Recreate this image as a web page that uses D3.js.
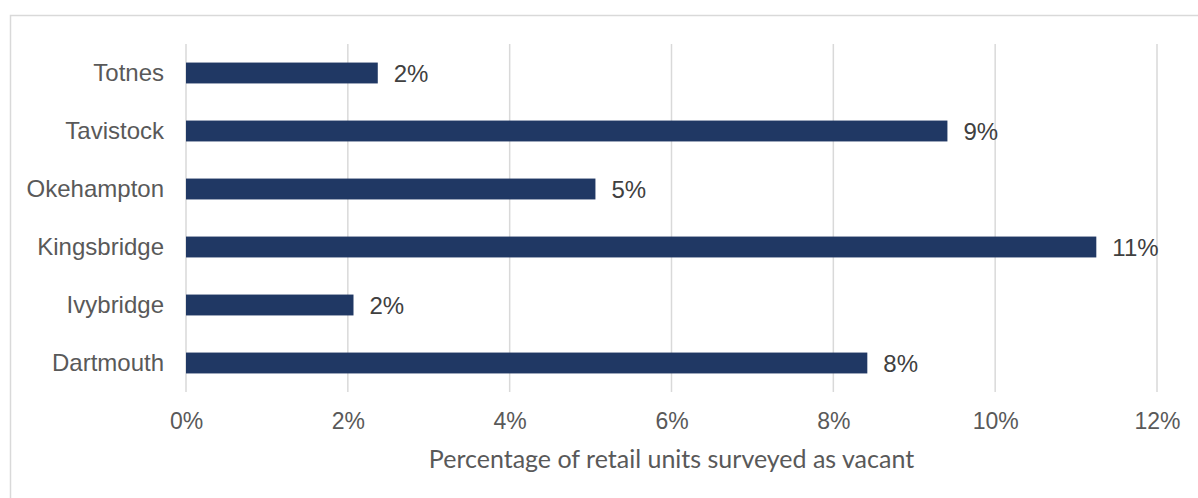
<!DOCTYPE html>
<html>
<head>
<meta charset="utf-8">
<title>Vacant retail units</title>
<script src="https://cdnjs.cloudflare.com/ajax/libs/d3/7.8.5/d3.min.js"></script>
<style>
  body { margin: 0; background: #fff; }
  svg { display: block; }
</style>
</head>
<body>
<div id="chart"></div>
<script>
// data, top to bottom
var towns = ["Totnes", "Tavistock", "Okehampton", "Kingsbridge", "Ivybridge", "Dartmouth"];
var vacant = [2.37, 9.41, 5.06, 11.25, 2.07, 8.42];
var valueLabels = ["2%", "9%", "5%", "11%", "2%", "8%"];
var xTicks = [0, 2, 4, 6, 8, 10, 12];
var xTitle = "Percentage of retail units surveyed as vacant";

var w = 1198, h = 498;
var margin = {top: 44, right: 41, bottom: 106, left: 186};

var svg = d3.select("#chart").append("svg")
    .attr("width", w)
    .attr("height", h);

// outer frame (runs off right/bottom edge like the original)
svg.append("rect")
    .attr("x", 10.5).attr("y", 15.5)
    .attr("width", w + 20).attr("height", h + 20)
    .attr("fill", "none")
    .attr("stroke", "#d9d9d9")
    .attr("stroke-width", 1.5);

var xScale = d3.scaleLinear()
    .domain([0, 12])
    .range([margin.left, w - margin.right]);

var yScale = d3.scaleBand()
    .domain(towns)
    .range([margin.top, h - margin.bottom])
    .paddingInner(0.64)
    .paddingOuter(0.32);

// gridlines
svg.append("g")
    .selectAll("line")
    .data(xTicks)
    .enter().append("line")
    .attr("x1", (d) => xScale(d))
    .attr("x2", (d) => xScale(d))
    .attr("y1", margin.top)
    .attr("y2", h - margin.bottom)
    .attr("stroke", "#d9d9d9")
    .attr("stroke-width", 1.5);

// bars
svg.append("g")
    .selectAll("rect")
    .data(vacant)
    .enter().append("rect")
    .attr("x", xScale(0))
    .attr("y", (d, i) => yScale(towns[i]))
    .attr("width", (d) => xScale(d) - xScale(0))
    .attr("height", yScale.bandwidth())
    .attr("fill", "#203864");

// value labels
svg.append("g")
    .selectAll("text")
    .data(vacant)
    .enter().append("text")
    .attr("x", (d) => xScale(d) + 16)
    .attr("y", (d, i) => yScale(towns[i]) + yScale.bandwidth() / 2)
    .attr("dy", "0.36em")
    .attr("font-family", "'Liberation Sans', Arial, sans-serif")
    .attr("font-size", "24px")
    .attr("fill", "#404040")
    .text((d, i) => valueLabels[i]);

// category axis
var yAxis = d3.axisLeft(yScale).tickSize(0).tickPadding(22);
var yg = svg.append("g")
    .attr("transform", "translate(" + margin.left + ",0)")
    .call(yAxis);
yg.select(".domain").remove();
yg.selectAll("text")
    .attr("font-family", "'Liberation Sans', Arial, sans-serif")
    .attr("font-size", "24px")
    .attr("fill", "#595959");

// value axis
var xAxis = d3.axisBottom(xScale)
    .tickValues(xTicks)
    .tickSize(0)
    .tickPadding(21)
    .tickFormat((d) => d + "%");
var xg = svg.append("g")
    .attr("transform", "translate(0," + (h - margin.bottom) + ")")
    .call(xAxis);
xg.select(".domain").remove();
xg.selectAll("text")
    .attr("font-family", "'Liberation Sans', Arial, sans-serif")
    .attr("font-size", "23px")
    .attr("fill", "#595959");

// axis title
svg.append("text")
    .attr("x", (xScale(0) + xScale(12)) / 2)
    .attr("y", 468)
    .attr("text-anchor", "middle")
    .attr("font-family", "Lato, 'Open Sans', sans-serif")
    .attr("font-size", "25px")
    .attr("fill", "#595959")
    .text(xTitle);
</script>
</body>
</html>
